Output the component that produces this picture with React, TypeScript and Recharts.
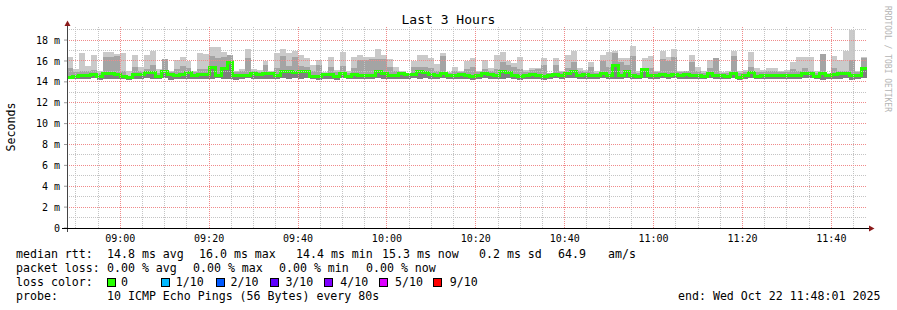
import { ComposedChart, Area, Line, XAxis, YAxis, ReferenceLine } from 'recharts';

// 80s steps from 08:48:01 to 11:48:01 (135 steps), values in ms
const startTime = '08:48:01';
const endTime = '11:48:01';
const stepSeconds = 80;

const rttMin = [
  14.25, 14.3, 14.3, 14.25, 14.35, 14.2, 14.3, 14.3, 14.3, 14.25, 14.2, 14.3, 14.3, 14.35, 14.3, 14.25, 14.35, 14.2, 14.3, 14.3, 14.3, 14.25, 14.3,
  14.3, 14.3, 14.35, 14.3, 14.3, 14.2, 14.3, 14.35, 14.3, 14.25, 14.3, 14.3, 14.3, 14.35, 14.3, 14.4, 14.3, 14.35, 14.25, 14.2, 14.3, 14.3,
  14.2, 14.35, 14.25, 14.3, 14.3, 14.3, 14.25, 14.35, 14.3, 14.3, 14.3, 14.3, 14.3, 14.35, 14.3, 14.4, 14.3, 14.25, 14.35, 14.25, 14.3, 14.3, 14.3,
  14.2, 14.3, 14.35, 14.3, 14.3, 14.3, 14.4, 14.25, 14.2, 14.3, 14.3, 14.3, 14.2, 14.3, 14.35, 14.25, 14.35, 14.4, 14.3, 14.3, 14.3, 14.25,
  14.35, 14.3, 14.3, 14.25, 14.4, 14.3, 14.25, 14.4, 14.3, 14.3, 14.35, 14.3, 14.35, 14.3, 14.3, 14.25, 14.3, 14.25, 14.35, 14.3, 14.3, 14.25, 14.35,
  14.15, 14.3, 14.35, 14.25, 14.3, 14.3, 14.3, 14.3, 14.25, 14.3, 14.3, 14.35, 14.35, 14.25, 14.2, 14.3, 14.3, 14.3, 14.35, 14.2, 14.3, 14.35,
];

const rttMedian = [
  14.43, 14.5, 14.6, 14.6, 14.75, 14.5, 14.8, 14.8, 14.7, 14.5, 14.4, 14.7, 14.7, 14.85, 14.85, 14.5, 14.95, 14.7, 14.65, 14.75, 14.9, 14.65, 14.7,
  14.7, 15.35, 14.65, 15.3, 15.9, 14.65, 14.65, 14.6, 14.8, 14.72, 14.78, 14.78, 14.6, 15.0, 15.0, 14.85, 15.0, 15.0, 14.5, 14.5, 14.72, 14.72,
  14.5, 14.8, 14.5, 14.72, 14.65, 14.65, 14.6, 15.0, 14.8, 14.65, 14.65, 14.78, 14.72, 14.72, 14.97, 14.87, 14.72, 14.65, 14.78, 14.6, 14.65, 14.72, 14.65,
  14.5, 14.65, 14.8, 14.72, 14.6, 14.97, 14.9, 14.6, 14.5, 14.65, 14.72, 14.6, 14.5, 14.6, 14.72, 14.6, 14.8, 14.97, 14.65, 14.72, 14.65, 14.6,
  14.8, 14.65, 15.6, 14.65, 15.0, 14.65, 14.5, 15.2, 14.65, 14.6, 14.72, 14.65, 14.75, 14.65, 14.72, 14.6, 14.65, 14.56, 14.78, 14.6, 14.6, 14.5, 14.78,
  14.4, 14.65, 14.9, 14.5, 14.65, 14.6, 14.6, 14.65, 14.6, 14.6, 14.65, 14.78, 14.78, 14.5, 14.78, 14.65, 14.72, 14.78, 14.78, 14.65, 14.65, 15.3,
];

const rttUpper = [
  15.3, 14.9, 15.0, 15.0, 15.1, 14.8, 16.4, 16.4, 16.5, 15.0, 14.6, 15.4, 15.0, 15.2, 15.6, 14.8, 16.2, 14.9, 15.2, 15.5, 15.3, 14.9, 15.2,
  15.2, 16.5, 16.3, 16.4, 16.6, 14.9, 15.0, 16.3, 15.0, 14.9, 15.6, 14.9, 15.3, 16.5, 15.5, 16.4, 15.5, 15.4, 15.0, 15.6, 14.8, 15.4,
  14.9, 15.5, 14.8, 15.3, 16.1, 16.1, 16.2, 16.2, 16.2, 15.4, 15.0, 14.9, 14.8, 15.4, 15.4, 15.4, 15.3, 15.0, 16.5, 14.8, 15.0, 14.9, 15.2,
  15.4, 14.9, 15.2, 15.0, 15.2, 15.9, 15.6, 15.4, 15.2, 14.9, 15.1, 15.2, 15.6, 14.8, 15.6, 14.9, 15.3, 15.9, 15.0, 14.9, 15.4, 14.8,
  16.0, 15.4, 16.8, 15.9, 15.6, 16.5, 14.8, 15.3, 15.3, 14.9, 16.2, 16.0, 16.4, 14.9, 15.0, 15.9, 15.0, 14.8, 15.3, 16.3, 14.8, 14.8, 16.5,
  14.8, 14.9, 15.4, 14.9, 14.9, 15.0, 15.0, 14.9, 14.9, 15.2, 15.0, 15.3, 15.0, 14.8, 16.7, 14.75, 15.3, 15.0, 15.0, 16.1, 14.9, 16.3,
];

const rttMax = [
  16.4, 15.2, 16.8, 15.5, 16.6, 15.0, 16.9, 16.9, 16.7, 16.8, 15.0, 16.6, 15.4, 16.6, 17.0, 15.2, 16.2, 15.0, 16.1, 16.4, 16.0, 15.0, 16.8,
  16.7, 17.3, 17.3, 16.9, 16.6, 15.0, 15.2, 17.1, 15.2, 15.1, 16.0, 15.0, 16.8, 17.1, 16.8, 17.0, 16.6, 16.3, 15.6, 16.1, 14.9, 16.4,
  15.1, 16.9, 15.0, 16.4, 16.6, 16.4, 16.4, 17.1, 16.6, 16.2, 15.4, 15.0, 14.8, 16.0, 16.6, 16.6, 16.3, 15.7, 16.8, 14.9, 15.4, 15.0, 16.0,
  16.3, 15.0, 16.1, 15.3, 16.6, 16.9, 16.0, 15.8, 16.4, 15.1, 15.3, 15.3, 16.3, 14.8, 16.3, 15.0, 16.6, 17.0, 15.3, 15.1, 15.9, 15.0,
  16.6, 16.9, 17.0, 16.25, 16.25, 17.4, 15.0, 16.25, 16.5, 15.0, 17.0, 16.4, 17.1, 15.0, 15.0, 16.6, 15.4, 15.0, 16.1, 16.3, 14.9, 15.0, 17.0,
  15.0, 15.1, 16.9, 15.3, 15.1, 15.3, 15.3, 15.0, 15.1, 15.9, 16.4, 16.4, 16.4, 15.0, 16.7, 14.8, 16.5, 16.1, 17.0, 19.0, 15.0, 16.4,
];

const xTickLabels = ['09:00', '09:20', '09:40', '10:00', '10:20', '10:40', '11:00', '11:20', '11:40'];
const xMinorLabels = [
  '08:50', '08:55', '09:05', '09:10', '09:15', '09:25', '09:30', '09:35', '09:45', '09:50', '09:55',
  '10:05', '10:10', '10:15', '10:25', '10:30', '10:35', '10:45', '10:50', '10:55',
  '11:05', '11:10', '11:15', '11:25', '11:30', '11:35', '11:45',
];
const yMajorTicks = [0, 2, 4, 6, 8, 10, 12, 14, 16, 18];
const yMinorTicks = [1, 3, 5, 7, 9, 11, 13, 15, 17, 19];

const lossColors = [
  { label: '0', color: '#26ff00' },
  { label: '1/10', color: '#00b8ff' },
  { label: '2/10', color: '#0059ff' },
  { label: '3/10', color: '#5e00ff' },
  { label: '4/10', color: '#7e00ff' },
  { label: '5/10', color: '#dd00ff' },
  { label: '9/10', color: '#ff0000' },
];

const toSec = (s: string) => {
  const [h, m, sec] = s.split(':').map(Number);
  return h * 3600 + m * 60 + (sec || 0);
};

const t0 = toSec(startTime);
const t1 = toSec(endTime);
const xTickSecs = xTickLabels.map(toSec);

const rows = rttMedian.map((med, i) => {
  const lo = rttMin[i];
  const up = Math.max(rttUpper[i], med);
  const hi = Math.max(rttMax[i], up);
  return { t: t0 + i * stepSeconds, base: lo, low: med - lo, mid: up - med, top: hi - up, med };
});
// close the last step at the end time
rows.push({ ...rows[rows.length - 1], t: t1 });

const MONO = '"DejaVu Sans Mono", monospace';
const MINOR = '#c4c4c4';
const MAJOR = '#f08a8a';

const Txt = ({ x, y, children }: { x: number; y: number; children: any }) => (
  <div style={{ position: 'absolute', left: x, top: y - 7, lineHeight: '14px', whiteSpace: 'pre' }}>{children}</div>
);

export default function App() {
  return (
    <div style={{ position: 'absolute', left: 0, top: 0, width: 897, height: 310, background: '#fff', fontFamily: MONO, fontSize: 11.6, color: '#000' }}>
      <ComposedChart width={897} height={310} data={rows} margin={{ top: 26, right: 30, bottom: 62, left: 7 }}>
        <XAxis
          dataKey="t"
          type="number"
          domain={[t0, t1]}
          ticks={xTickSecs}
          tickFormatter={(v: number) => xTickLabels[xTickSecs.indexOf(v)] ?? ''}
          height={20}
          axisLine={false}
          tickLine={false}
          tickMargin={1}
          tick={{ fontFamily: MONO, fontSize: 10, fill: '#000' }}
          allowDataOverflow
        />
        <YAxis
          type="number"
          domain={[0, 19.35]}
          ticks={yMajorTicks}
          tickFormatter={(v: number) => (v === 0 ? '0' : `${v} m`)}
          width={60}
          axisLine={false}
          tickLine={{ stroke: '#999' }}
          tickSize={3}
          tickMargin={4}
          tick={{ fontFamily: MONO, fontSize: 10, fill: '#000' }}
          allowDataOverflow
        />
        <Area type="stepAfter" dataKey="base" stackId="smoke" stroke="none" fill="none" isAnimationActive={false} />
        <Area type="stepAfter" dataKey="low" stackId="smoke" stroke="none" fill="#7e7e7e" fillOpacity={1} shapeRendering="crispEdges" isAnimationActive={false} />
        <Area type="stepAfter" dataKey="mid" stackId="smoke" stroke="none" fill="#a4a4a4" fillOpacity={1} shapeRendering="crispEdges" isAnimationActive={false} />
        <Area type="stepAfter" dataKey="top" stackId="smoke" stroke="none" fill="#cacaca" fillOpacity={1} shapeRendering="crispEdges" isAnimationActive={false} />
        <Line type="stepAfter" dataKey="med" stroke="#26ff00" strokeWidth={3} dot={false} shapeRendering="crispEdges" isAnimationActive={false} />
        {yMinorTicks.map((v) => (
          <ReferenceLine key={`ym${v}`} y={v} stroke={MINOR} strokeDasharray="1 1" shapeRendering="crispEdges" />
        ))}
        {xMinorLabels.map((l) => (
          <ReferenceLine key={`xm${l}`} x={toSec(l)} stroke={MINOR} strokeDasharray="1 1" shapeRendering="crispEdges" />
        ))}
        {yMajorTicks.map((v) => (
          <ReferenceLine key={`yM${v}`} y={v} stroke={MAJOR} strokeDasharray="1 1" shapeRendering="crispEdges" />
        ))}
        {xTickSecs.map((s) => (
          <ReferenceLine key={`xM${s}`} x={s} stroke={MAJOR} strokeDasharray="1 1" shapeRendering="crispEdges" />
        ))}
      </ComposedChart>

      <svg width={897} height={310} style={{ position: 'absolute', left: 0, top: 0, pointerEvents: 'none' }}>
        <line x1={67.5} y1={232} x2={67.5} y2={24} stroke="#444" />
        <line x1={62} y1={228.5} x2={869} y2={228.5} stroke="#000" />
        <polygon points="64.5,26 70.5,26 67.5,20.5" fill="#8b1a1a" />
        <polygon points="869,225.5 869,231.5 874.5,228.5" fill="#8b1a1a" />
      </svg>

      <div style={{ position: 'absolute', left: 0, width: 897, top: 12, textAlign: 'center', fontSize: 13, lineHeight: '16px' }}>Last 3 Hours</div>
      <div style={{ position: 'absolute', left: 11, top: 127, transform: 'translate(-50%, -50%) rotate(-90deg)', whiteSpace: 'nowrap', lineHeight: '14px' }}>Seconds</div>
      <div style={{ position: 'absolute', left: 887, top: 59, transform: 'translate(-50%, -50%) rotate(90deg)', whiteSpace: 'nowrap', fontSize: 8, color: '#b4b4b4', lineHeight: '10px' }}>RRDTOOL / TOBI OETIKER</div>

      <Txt x={16} y={254}>median rtt:</Txt>
      <Txt x={107} y={254}>14.8 ms avg</Txt>
      <Txt x={199} y={254}>16.0 ms max</Txt>
      <Txt x={296} y={254}>14.4 ms min</Txt>
      <Txt x={382} y={254}>15.3 ms now</Txt>
      <Txt x={479} y={254}>0.2 ms sd</Txt>
      <Txt x={558} y={254}>64.9</Txt>
      <Txt x={608} y={254}>am/s</Txt>

      <Txt x={16} y={268}>packet loss:</Txt>
      <Txt x={107} y={268}>0.00 % avg</Txt>
      <Txt x={193} y={268}>0.00 % max</Txt>
      <Txt x={279} y={268}>0.00 % min</Txt>
      <Txt x={366} y={268}>0.00 % now</Txt>

      <Txt x={16} y={282}>loss color:</Txt>
      {lossColors.map((c, i) => (
        <div key={c.label}>
          <div style={{ position: 'absolute', left: 107 + i * 54.3, top: 277.5, width: 9, height: 9, boxSizing: 'border-box', border: '1px solid #000', background: c.color }} />
          <Txt x={121 + i * 54.8} y={282}>{c.label}</Txt>
        </div>
      ))}

      <Txt x={16} y={296}>probe:</Txt>
      <Txt x={107} y={296}>10 ICMP Echo Pings (56 Bytes) every 80s</Txt>
      <Txt x={678} y={296}>end: Wed Oct 22 11:48:01 2025</Txt>
    </div>
  );
}
